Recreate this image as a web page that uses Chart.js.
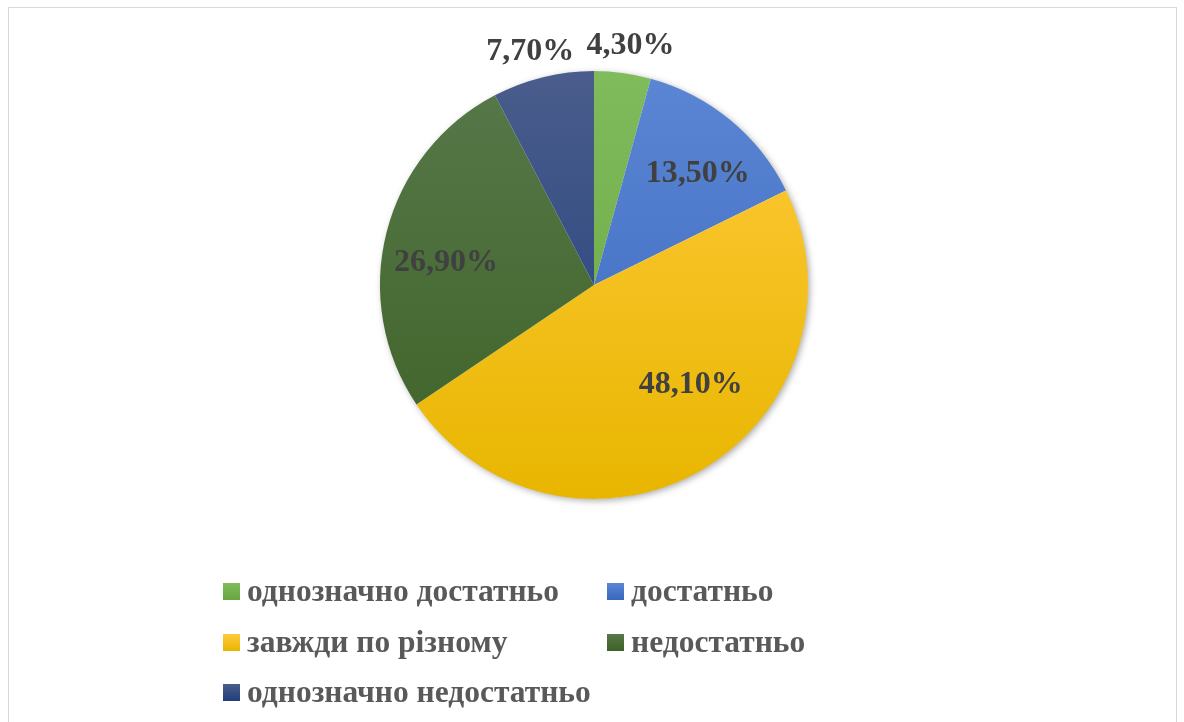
<!DOCTYPE html>
<html>
<head>
<meta charset="utf-8">
<script src="https://cdn.jsdelivr.net/npm/chart.js@4"></script>
<style>
  html, body { margin: 0; padding: 0; background: #fff; }
  #wrap { position: relative; width: 1184px; height: 722px; overflow: hidden; }
  #frame { position: absolute; left: 8px; top: 7px; width: 1169px; height: 730px; border: 1.5px solid #d9d9d9; box-sizing: border-box; }
  #pieCanvas { position: absolute; left: 0; top: 0; }
  .leg { position: absolute; display: flex; align-items: center; font: bold 31.5px "Liberation Serif", "Times New Roman", serif; color: #595959; white-space: nowrap; }
  .leg i { display: inline-block; width: 17px; height: 17px; margin-right: 7px; }
</style>
</head>
<body>
<div id="wrap">
  <div id="frame"></div>
  <canvas id="pieCanvas" width="1184" height="722"></canvas>
  <div id="legend"></div>
</div>
<script>
const categories = ['однозначно достатньо', 'достатньо', 'завжди по різному', 'недостатньо', 'однозначно недостатньо'];
const shares = [4.3, 13.5, 48.1, 26.9, 7.7];
const valueLabels = ['4,30%', '13,50%', '48,10%', '26,90%', '7,70%'];
// light (top) and dark (bottom) shade of each slice
const topColors = ['#80bb5c', '#5b86d4', '#ffca3c', '#57784a', '#4a5d8c'];
const bottomColors = ['#68a63e', '#3a67be', '#e8b600', '#3e6226', '#1f3e7a'];

// label placement: radius factor and angle shift (degrees) from the slice middle
const labelPlace = [
  { r: 1.13, da: 1 },
  { r: 0.71, da: 3.5 },
  { r: 0.65, da: -14 },
  { r: 0.70, da: -5.5 },
  { r: 1.13, da: -1.5 }
];

function sliceGradient(ctx, i) {
  const area = ctx.chart.chartArea;
  if (!area) return topColors[i];
  const cy = (area.top + area.bottom) / 2;
  const r = Math.min(area.right - area.left, area.bottom - area.top) / 2;
  const g = ctx.chart.ctx.createLinearGradient(0, cy - r, 0, cy + r);
  g.addColorStop(0, topColors[i]);
  g.addColorStop(1, bottomColors[i]);
  return g;
}

const shadowPlugin = {
  id: 'pieShadow',
  beforeDatasetsDraw(chart) {
    const arc = chart.getDatasetMeta(0).data[0];
    if (!arc) return;
    const c = chart.ctx;
    c.save();
    c.shadowColor = 'rgba(0,0,0,0.35)';
    c.shadowBlur = 7;
    c.shadowOffsetX = 2;
    c.shadowOffsetY = 2;
    c.fillStyle = '#ffffff';
    c.beginPath();
    c.arc(arc.x, arc.y, arc.outerRadius - 0.5, 0, Math.PI * 2);
    c.fill();
    c.restore();
  }
};

const valueLabelPlugin = {
  id: 'valueLabels',
  afterDatasetsDraw(chart) {
    const c = chart.ctx;
    const meta = chart.getDatasetMeta(0);
    c.save();
    c.font = 'bold 32px "Liberation Serif", "Times New Roman", serif';
    c.fillStyle = '#404040';
    c.textAlign = 'center';
    c.textBaseline = 'middle';
    meta.data.forEach((arc, i) => {
      const p = labelPlace[i];
      const a = (arc.startAngle + arc.endAngle) / 2 + p.da * Math.PI / 180;
      const rr = arc.outerRadius * p.r;
      c.fillText(valueLabels[i], arc.x + Math.cos(a) * rr, arc.y + Math.sin(a) * rr);
    });
    c.restore();
  }
};

new Chart(document.getElementById('pieCanvas'), {
  type: 'pie',
  data: {
    labels: categories,
    datasets: [{
      data: shares,
      backgroundColor: (ctx) => sliceGradient(ctx, ctx.dataIndex),
      borderWidth: 0,
    }]
  },
  options: {
    responsive: false,
    animation: false,
    layout: { padding: { top: 71, bottom: 223, left: 200, right: 196 } },
    plugins: {
      legend: { display: false },
      tooltip: { enabled: false }
    }
  },
  plugins: [shadowPlugin, valueLabelPlugin]
});

// legend in two columns, like the original
const legendEl = document.getElementById('legend');
const colX = [223, 607];
const rowY = [591, 642, 692];
categories.forEach((name, i) => {
  const d = document.createElement('div');
  d.className = 'leg';
  d.style.left = colX[i % 2] + 'px';
  d.style.top = (rowY[Math.floor(i / 2)] - 18) + 'px';
  d.style.height = '36px';
  d.innerHTML = '<i style="background:linear-gradient(' + topColors[i] + ',' + bottomColors[i] + ')"></i>' + name;
  legendEl.appendChild(d);
});
</script>
</body>
</html>
